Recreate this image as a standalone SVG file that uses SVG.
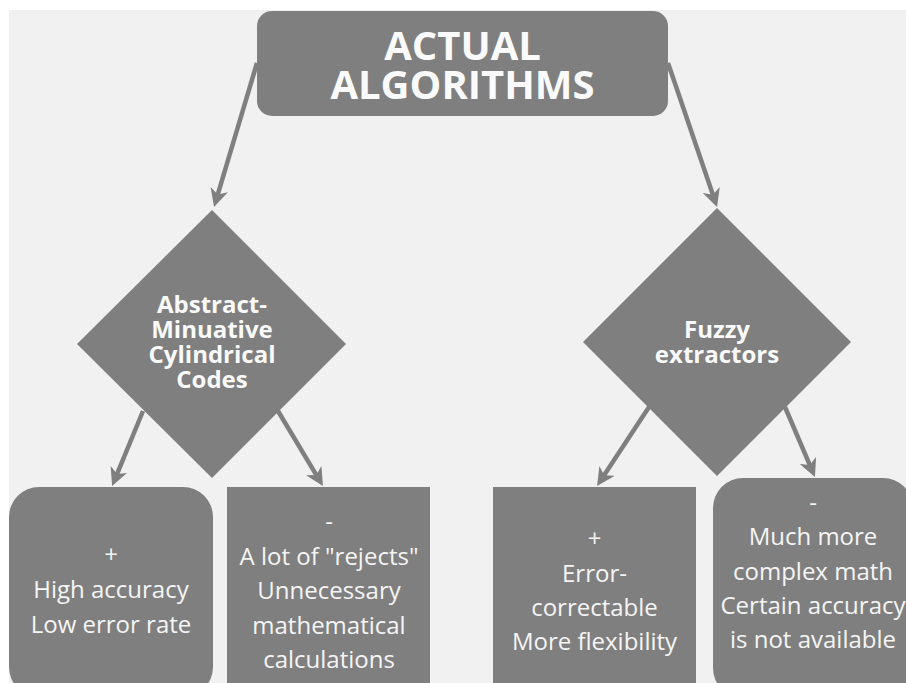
<svg xmlns="http://www.w3.org/2000/svg" width="906" height="683" viewBox="0 0 906 683">
<style>
  .shape { fill: #7f7f7f; }
  .title { font-family: "Open Sans", "Liberation Sans", sans-serif; font-weight: 700; font-size: 40px; fill: #fafafa; text-anchor: middle; }
  .dtext { font-family: "Open Sans", "Liberation Sans", sans-serif; font-weight: 700; font-size: 24px; fill: #fafafa; text-anchor: middle; }
  .btext { font-family: "Open Sans", "Liberation Sans", sans-serif; font-weight: 400; font-size: 24px; fill: #f5f5f5; text-anchor: middle; }
  .conn { stroke: #7f7f7f; stroke-width: 4.5; fill: none; marker-end: url(#arrow); }
</style>
<defs>
  <marker id="arrow" viewBox="0 0 18 18" refX="7" refY="9" markerWidth="18" markerHeight="18" markerUnits="userSpaceOnUse" orient="auto">
    <path d="M0,0 L18,9 L0,18 L5,9 z" fill="#7f7f7f"/>
  </marker>
</defs>
<rect x="0" y="0" width="906" height="683" fill="#ffffff"/>
<rect x="9" y="10" width="897" height="673" fill="#f1f1f1"/>

<g id="connectors">
  <line class="conn" x1="257" y1="63" x2="217.2" y2="196.4"/>
  <line class="conn" x1="668" y1="63" x2="713.5" y2="196.6"/>
  <line class="conn" x1="143" y1="411" x2="116.3" y2="475.9"/>
  <line class="conn" x1="278" y1="411" x2="317.3" y2="476.6"/>
  <line class="conn" x1="649" y1="407" x2="603.1" y2="476.8"/>
  <line class="conn" x1="785" y1="407" x2="810.6" y2="466.9"/>
</g>

<g id="title">
  <rect class="shape" x="257" y="11" width="411" height="105" rx="15"/>
  <text class="title" x="462.5" y="60">ACTUAL</text>
  <text class="title" x="462.5" y="99">ALGORITHMS</text>
</g>

<g id="amcc">
  <polygon class="shape" points="212,210 346,344 212,478 77,344"/>
  <text class="dtext" x="212" y="313">Abstract-</text>
  <text class="dtext" x="212" y="338">Minuative</text>
  <text class="dtext" x="212" y="363">Cylindrical</text>
  <text class="dtext" x="212" y="388">Codes</text>
</g>

<g id="fuzzy">
  <polygon class="shape" points="717,208 851,342 717,476 583,342"/>
  <text class="dtext" x="717" y="338">Fuzzy</text>
  <text class="dtext" x="717" y="363">extractors</text>
</g>

<g id="amcc-plus">
  <rect class="shape" x="9" y="487" width="204" height="210" rx="30"/>
  <text class="btext" x="111" y="563">+</text>
  <text class="btext" x="111" y="598">High accuracy</text>
  <text class="btext" x="111" y="633">Low error rate</text>
</g>

<g id="amcc-minus">
  <rect class="shape" x="227" y="487" width="203" height="200"/>
  <text class="btext" x="329" y="530">-</text>
  <text class="btext" x="329" y="565">A lot of "rejects"</text>
  <text class="btext" x="329" y="599">Unnecessary</text>
  <text class="btext" x="329" y="634">mathematical</text>
  <text class="btext" x="329" y="668">calculations</text>
</g>

<g id="fuzzy-plus">
  <rect class="shape" x="493" y="487" width="203" height="200"/>
  <text class="btext" x="594.5" y="547">+</text>
  <text class="btext" x="594.5" y="582">Error-</text>
  <text class="btext" x="594.5" y="616">correctable</text>
  <text class="btext" x="594.5" y="650">More flexibility</text>
</g>

<g id="fuzzy-minus">
  <rect class="shape" x="713" y="478" width="200" height="220" rx="30"/>
  <text class="btext" x="813" y="511">-</text>
  <text class="btext" x="813" y="545">Much more</text>
  <text class="btext" x="813" y="580">complex math</text>
  <text class="btext" x="813" y="614">Certain accuracy</text>
  <text class="btext" x="813" y="648">is not available</text>
</g>
</svg>
